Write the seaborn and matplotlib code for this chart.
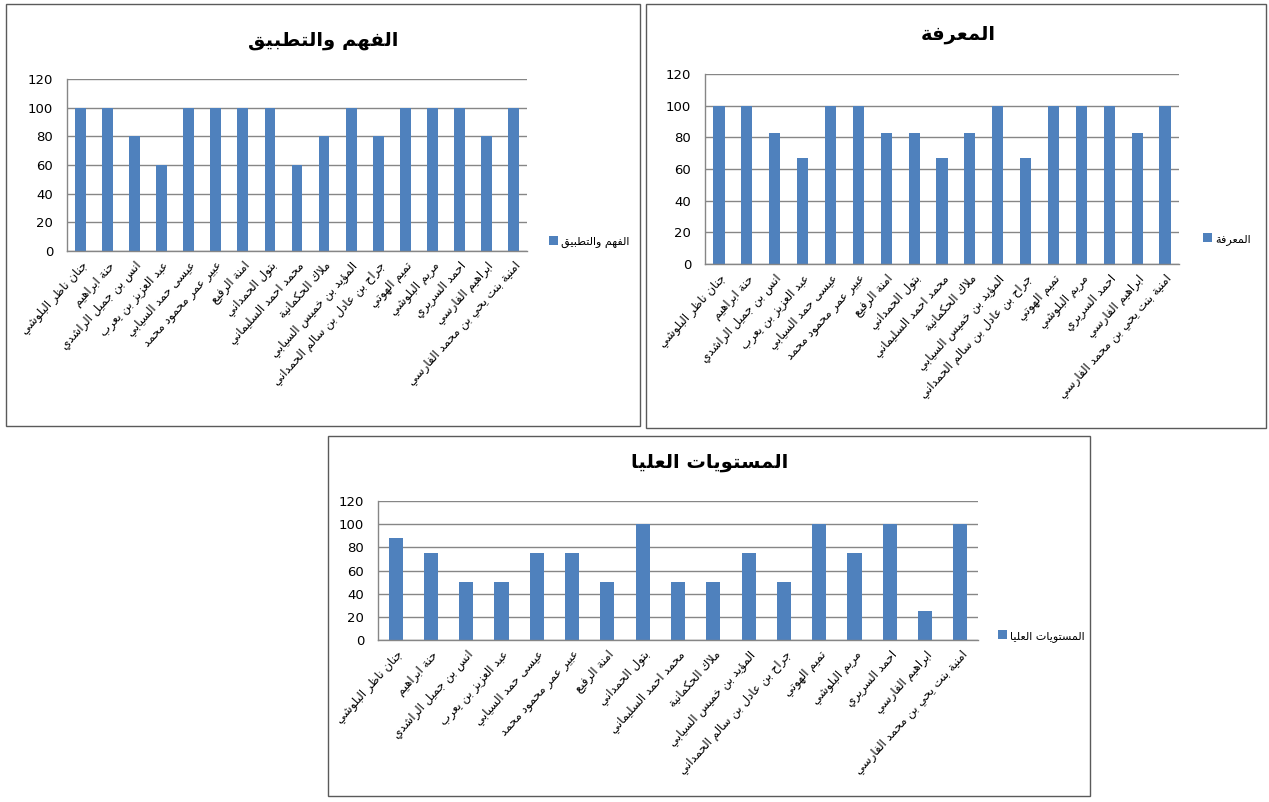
import matplotlib
matplotlib.use('Agg')
import matplotlib.pyplot as plt
from matplotlib.patches import Rectangle
import pandas as pd
import seaborn as sns

# ── Data ─────────────────────────────────────────────────────────────────────
NAMES = [
    'جنان ناظر البلوشي',
    'حنة ابراهيم',
    'انس بن جميل الراشدي',
    'عبد العزيز بن يعرب',
    'عيسى حمد السيابي',
    'عبير عمر محمود محمد',
    'امنة الرفيع',
    'بتول الحمداني',
    'محمد احمد السليماني',
    'ملاك الحكمانية',
    'المؤيد بن خميس السيابي',
    'جراح بن عادل بن سالم الحمداني',
    'تميم الهوتي',
    'مريم البلوشي',
    'احمد السريري',
    'ابراهيم الفارسي',
    'امنية بنت يحي بن محمد الفارسي',
]

TITLE_UNDERSTAND = 'الفهم والتطبيق'
TITLE_KNOW = 'المعرفة'
TITLE_HIGHER = 'المستويات العليا'

UNDERSTAND = [100, 100, 80, 60, 100, 100, 100, 100, 60, 80, 100, 80, 100, 100, 100, 80, 100]
KNOW = [100, 100, 83, 67, 100, 100, 83, 83, 67, 83, 100, 67, 100, 100, 100, 83, 100]
HIGHER = [88, 75, 50, 50, 75, 75, 50, 100, 50, 50, 75, 50, 100, 75, 100, 25, 100]

Y_TICKS = [0, 20, 40, 60, 80, 100, 120]

BLUE = '#4F81BD'
GRAY = '#868686'
W, H = 1269, 802

# ── Arabic shaping (matplotlib has no bidi / joining support) ────────────────
FORMS = {
    'ء': (0xFE80, 1), 'آ': (0xFE81, 2), 'أ': (0xFE83, 2), 'ؤ': (0xFE85, 2),
    'إ': (0xFE87, 2), 'ئ': (0xFE89, 4), 'ا': (0xFE8D, 2), 'ب': (0xFE8F, 4),
    'ة': (0xFE93, 2), 'ت': (0xFE95, 4), 'ث': (0xFE99, 4), 'ج': (0xFE9D, 4),
    'ح': (0xFEA1, 4), 'خ': (0xFEA5, 4), 'د': (0xFEA9, 2), 'ذ': (0xFEAB, 2),
    'ر': (0xFEAD, 2), 'ز': (0xFEAF, 2), 'س': (0xFEB1, 4), 'ش': (0xFEB5, 4),
    'ص': (0xFEB9, 4), 'ض': (0xFEBD, 4), 'ط': (0xFEC1, 4), 'ظ': (0xFEC5, 4),
    'ع': (0xFEC9, 4), 'غ': (0xFECD, 4), 'ف': (0xFED1, 4), 'ق': (0xFED5, 4),
    'ك': (0xFED9, 4), 'ل': (0xFEDD, 4), 'م': (0xFEE1, 4), 'ن': (0xFEE5, 4),
    'ه': (0xFEE9, 4), 'و': (0xFEED, 2), 'ى': (0xFEEF, 2), 'ي': (0xFEF1, 4),
    '\ufefb': (0xFEFB, 2),  # lam-alef ligature
}


def shape(text):
    lines = []
    for line in text.split('\n'):
        line = line.replace('لا', '\ufefb')
        out = []
        for i, ch in enumerate(line):
            if ch not in FORMS:
                out.append(ch)
                continue
            base, n = FORMS[ch]
            prev = line[i - 1] if i > 0 else ''
            nxt = line[i + 1] if i + 1 < len(line) else ''
            join_prev = n >= 2 and prev in FORMS and FORMS[prev][1] == 4
            join_next = n == 4 and nxt in FORMS
            if join_prev and join_next:
                k = 3
            elif join_prev:
                k = 1
            elif join_next:
                k = 2
            else:
                k = 0
            out.append(chr(base + k))
        lines.append(''.join(reversed(out)))
    return '\n'.join(lines)


def px_rect(x0, y0, x1, y1):
    return [x0 / W, 1 - y1 / H, (x1 - x0) / W, (y1 - y0) / H]


def draw_panel(fig, box, axes_px, title_xy, legend_xy, title, values):
    x0, y0, x1, y1 = box
    fig.add_artist(Rectangle((x0 / W, 1 - y1 / H), (x1 - x0) / W, (y1 - y0) / H,
                             transform=fig.transFigure, fill=False,
                             edgecolor='#5a5a5a', lw=1))

    ax = fig.add_axes(px_rect(*axes_px))
    df = pd.DataFrame({'name': [shape(n) for n in NAMES], 'score': values})
    sns.barplot(data=df, x='name', y='score', color=BLUE, saturation=1,
                width=0.4, linewidth=0, label=shape(title), ax=ax)

    n = len(NAMES)
    ax.set_xlim(-0.5, n - 0.5)
    ax.set_ylim(0, 120)
    ax.set_yticks(Y_TICKS)
    ax.set_xlabel('')
    ax.set_ylabel('')
    ax.grid(axis='y', color=GRAY, lw=1)
    ax.set_axisbelow(True)
    for s in ('top', 'right'):
        ax.spines[s].set_visible(False)
    for s in ('left', 'bottom'):
        ax.spines[s].set_color(GRAY)
        ax.spines[s].set_linewidth(1)

    # Excel style: tick marks between categories, labels under bars
    ax.set_xticks([i - 0.5 for i in range(n + 1)], minor=True)
    ax.tick_params(axis='x', which='major', length=0, pad=6, labelcolor='black')
    ax.tick_params(axis='x', which='minor', length=5, color=GRAY, direction='out')
    ax.tick_params(axis='y', length=4, color=GRAY, labelsize=9.5, pad=6,
                   labelcolor='black')
    for lab in ax.get_xticklabels():
        lab.set_rotation(48)
        lab.set_ha('right')
        lab.set_rotation_mode('anchor')
        lab.set_fontsize(8.5)

    fig.text(title_xy[0] / W, 1 - title_xy[1] / H, shape(title),
             ha='center', va='center', fontsize=14, fontweight='bold',
             color='black')
    leg = ax.legend(loc='center left',
                    bbox_to_anchor=(legend_xy[0] / W, 1 - legend_xy[1] / H),
                    bbox_transform=fig.transFigure, frameon=False, fontsize=8,
                    handlelength=0.8, handleheight=0.8, handletextpad=0.3,
                    borderpad=0, borderaxespad=0)
    for t in leg.get_texts():
        t.set_color('black')
    return ax


def main():
    sns.set_style('white')
    plt.rcParams['font.family'] = ['DejaVu Sans']

    fig = plt.figure(figsize=(W / 100, H / 100), dpi=100)

    draw_panel(fig, (6, 4, 640, 426), (67, 79, 527, 251), (323, 40), (549, 242),
               TITLE_UNDERSTAND, UNDERSTAND)
    draw_panel(fig, (646, 4, 1266, 428), (705, 74, 1179, 264), (958, 35), (1203, 239),
               TITLE_KNOW, KNOW)
    draw_panel(fig, (328, 436, 1090, 796), (378, 501, 978, 640), (710, 462), (998, 636),
               TITLE_HIGHER, HIGHER)

    fig.savefig('out.png', dpi=100)
    plt.close(fig)


if __name__ == '__main__':
    main()
